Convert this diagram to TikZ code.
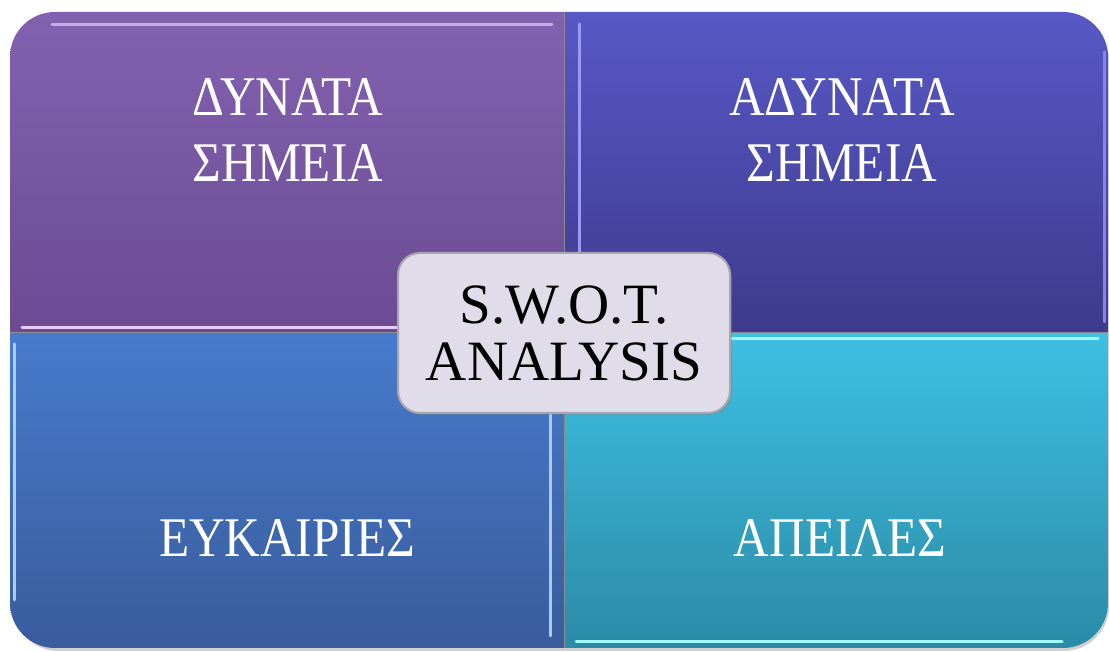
\documentclass[tikz,border=0pt]{standalone}
\usepackage{fontspec}
\setmainfont{Liberation Serif}
\newfontfamily\quadfont[FakeStretch=0.88]{Liberation Serif}
\usetikzlibrary{shadows}

\definecolor{tlTop}{HTML}{8261B0}
\definecolor{tlBot}{HTML}{6C4B93}
\definecolor{tlHi}{HTML}{E6CCFF}
\definecolor{trTop}{HTML}{5858C6}
\definecolor{trBot}{HTML}{3E3A8C}
\definecolor{trHi}{HTML}{9A98F8}
\definecolor{blTop}{HTML}{477BCC}
\definecolor{blBot}{HTML}{395C9C}
\definecolor{blHi}{HTML}{A8CCFF}
\definecolor{brTop}{HTML}{3EC0E3}
\definecolor{brBot}{HTML}{2B8BA6}
\definecolor{brHi}{HTML}{A0FAFF}
\definecolor{swotFill}{HTML}{E0DCEA}
\definecolor{swotLine}{HTML}{A9A5B0}

\tikzset{
  quadtext/.style={text=white,align=center,
    font=\quadfont\fontsize{56}{66}\selectfont},
  swotbox/.style={draw=swotLine,line width=2pt,fill=swotFill,
    rounded corners=22pt,minimum width=332pt,minimum height=160pt,
    align=center,font=\fontsize{57}{57}\selectfont,
    drop shadow={opacity=0.35,shadow xshift=2pt,shadow yshift=-2pt}},
  bevel/.style={line width=3pt,line cap=round},
  seam/.style={line width=1pt,black!45}
}

\begin{document}
\begin{tikzpicture}[x=1pt,y=1pt]
  \useasboundingbox (0,0) rectangle (1109,652);
  % soft shadow round the whole block
  \fill[black!18,rounded corners=45pt] (13,1) rectangle (1109,637);

  \begin{scope}
  \shade[top color=tlTop,bottom color=tlBot] (10,319) -- (10,595)
    arc[start angle=180,end angle=90,radius=45pt] -- (564,640) -- (564,319) -- cycle;
  \shade[top color=trTop,bottom color=trBot] (564,319) -- (564,640) -- (1063,640)
    arc[start angle=90,end angle=0,radius=45pt] -- (1108,319) -- cycle;
  \shade[top color=blTop,bottom color=blBot] (10,319) -- (10,49)
    arc[start angle=180,end angle=270,radius=45pt] -- (564,4) -- (564,319) -- cycle;
  \shade[top color=brTop,bottom color=brBot] (564,319) -- (564,4) -- (1063,4)
    arc[start angle=270,end angle=360,radius=45pt] -- (1108,319) -- cycle;
  \end{scope}

  % bevel highlights
  \draw[bevel,tlHi!70!tlTop] (52,627) -- (552,627);
  \draw[bevel,tlHi] (22,324) -- (552,324);
  \draw[bevel,trHi] (579,330) -- (579,628);
  \draw[bevel,trHi!70!trTop] (1104,330) -- (1104,600);
  \draw[bevel,blHi] (14,52) -- (14,308);
  \draw[bevel,blHi] (550,16) -- (550,308);
  \draw[bevel,brHi] (576,313) -- (1098,313);
  \draw[bevel,brHi] (576,10) -- (1062,10);

  % seams
  \draw[seam] (564,4) -- (564,640);
  \draw[seam] (10,319) -- (1108,319);

  \node[quadtext] (strengths) at (288,522) {ΔΥΝΑΤΑ\\ΣΗΜΕΙΑ};
  \node[quadtext] (weaknesses) at (842,522) {ΑΔΥΝΑΤΑ\\ΣΗΜΕΙΑ};
  \node[quadtext] (opportunities) at (287,114) {ΕΥΚΑΙΡΙΕΣ};
  \node[quadtext] (threats) at (840,114) {ΑΠΕΙΛΕΣ};

  \node[swotbox] (swot) at (564,319) {S.W.O.T.\\ANALYSIS};
\end{tikzpicture}
\end{document}
